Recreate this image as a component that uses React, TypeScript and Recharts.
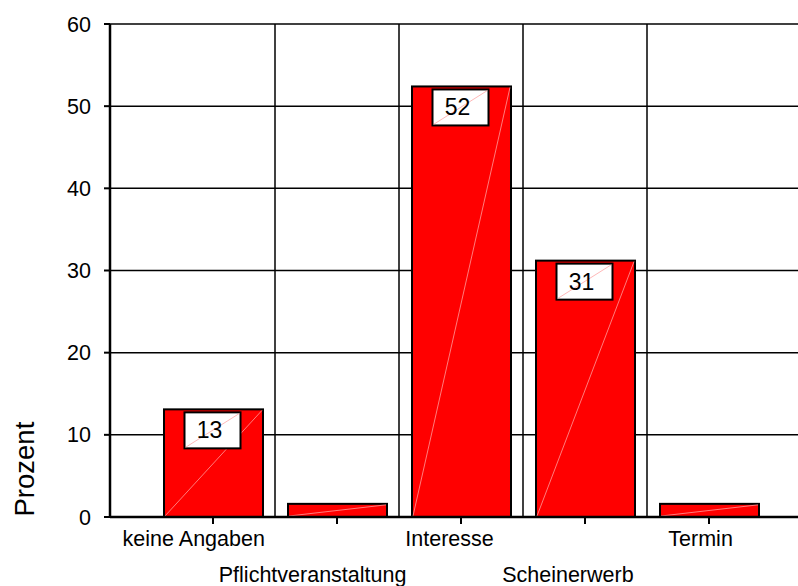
import { BarChart, Bar, XAxis, YAxis, CartesianGrid, LabelList, Label } from "recharts";

const categories = ["keine Angaben", "Pflichtveranstaltung", "Interesse", "Scheinerwerb", "Termin"];
const percent = [13.1, 1.6, 52.4, 31.2, 1.6];
const yTicks = [0, 10, 20, 30, 40, 50, 60];

const data = categories.map((name, i) => ({ name, value: percent[i] }));

const FONT = "'Liberation Sans', Arial, sans-serif";
const TICK_SIZE = 21.5;

// the original labels sit a bit left of their tick, by about 13% of their width
let ctx: CanvasRenderingContext2D | null = null;
const textWidth = (s: string, size: number) => {
  if (!ctx) ctx = document.createElement("canvas").getContext("2d");
  if (!ctx) return s.length * size * 0.5;
  ctx.font = `${size}px "Liberation Sans"`;
  return ctx.measureText(s).width;
};

const BarShape = (props: any) => {
  const { x, y, width, height } = props;
  if (width == null || height == null) return null;
  return (
    <g>
      <rect x={x} y={y} width={width} height={height} fill="#ff0000" stroke="#000" strokeWidth={2} />
      <line x1={x + 1} y1={y + height - 1} x2={x + width - 1} y2={y + 1} stroke="#ffb0b0" strokeWidth={0.7} />
    </g>
  );
};

const ValueBox = (props: any) => {
  const { x, y, width, value } = props;
  if (value < 5) return null;
  const w = 56;
  const h = 36;
  const bx = x + width / 2 - w / 2 - 1;
  const by = y + 3;
  return (
    <g>
      <rect x={bx} y={by} width={w} height={h} fill="#fff" stroke="#000" strokeWidth={2} />
      <line x1={bx + 1} y1={by + h - 1} x2={bx + w - 1} y2={by + 1} stroke="#ff9a9a" strokeWidth={0.7} />
      <text x={bx + w / 2 - 3} y={by + 26} textAnchor="middle" fontSize={23} fontFamily={FONT} fill="#000">
        {Math.round(value)}
      </text>
    </g>
  );
};

const StaggerTick = (props: any) => {
  const { x, y, payload, index } = props;
  const w = textWidth(String(payload.value), TICK_SIZE);
  return (
    <text
      x={x - 0.63 * w}
      y={y + (index % 2 ? 56 : 20)}
      textAnchor="start"
      fontSize={TICK_SIZE}
      fontFamily={FONT}
      fill="#000"
    >
      {payload.value}
    </text>
  );
};

const ProzentLabel = (props: any) => {
  const vb = props.viewBox || {};
  const bx = 34;
  const by = (vb.y ?? 24) + (vb.height ?? 492) - 0.5;
  return (
    <text x={bx} y={by} transform={`rotate(-90, ${bx}, ${by})`} textAnchor="start" fontSize={27.5} fontFamily={FONT} fill="#000">
      Prozent
    </text>
  );
};

const gridVerticals = ({ xAxis, offset }: any) => {
  const scale = xAxis && xAxis.scale;
  if (typeof scale === "function") {
    return categories.slice(1).map((c) => scale(c));
  }
  const left = offset.left + 41;
  const band = (offset.width - 68) / categories.length;
  return categories.slice(1).map((_, i) => left + band * (i + 1));
};

export default function App() {
  return (
    <div style={{ position: "absolute", left: 0, top: 0, background: "#fff" }}>
      <BarChart width={798} height={586} data={data} margin={{ top: 24, right: 0, left: 0, bottom: 0 }}>
        <CartesianGrid stroke="#000" strokeWidth={1.5} verticalCoordinatesGenerator={gridVerticals} />
        <XAxis
          dataKey="name"
          height={69}
          padding={{ left: 41, right: 27 }}
          axisLine={{ stroke: "#000", strokeWidth: 2.5 }}
          tickLine={{ stroke: "#000", strokeWidth: 2 }}
          tickSize={7}
          interval={0}
          tick={<StaggerTick />}
        />
        <YAxis
          width={110}
          domain={[0, 60]}
          ticks={yTicks}
          axisLine={{ stroke: "#000", strokeWidth: 2.5 }}
          tickLine={{ stroke: "#000", strokeWidth: 2 }}
          tickSize={6}
          tickMargin={13}
          tick={{ fill: "#000", fontSize: TICK_SIZE, fontFamily: FONT }}
        >
          <Label content={<ProzentLabel />} />
        </YAxis>
        <Bar dataKey="value" barSize={99} shape={<BarShape />} isAnimationActive={false}>
          <LabelList dataKey="value" content={<ValueBox />} />
        </Bar>
      </BarChart>
    </div>
  );
}
